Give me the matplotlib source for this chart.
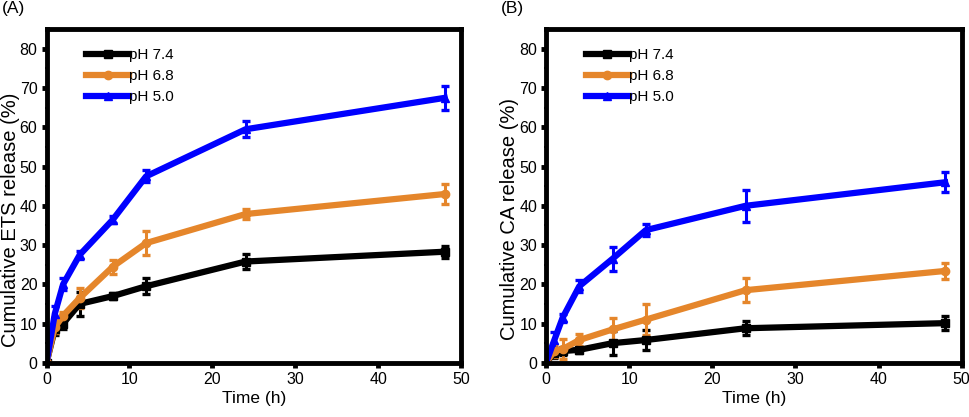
import matplotlib
matplotlib.use('Agg')
import matplotlib.pyplot as plt
from matplotlib.lines import Line2D
from matplotlib.ticker import MultipleLocator

plt.rcParams['font.family'] = ['Liberation Sans', 'DejaVu Sans']

# datos
tiempo = [0, 1, 2, 4, 8, 12, 24, 48]
etiquetas = ['pH 7.4', 'pH 6.8', 'pH 5.0']

ets_74 = [0, 8.5, 10.0, 15.0, 17.0, 19.5, 25.8, 28.3]
ets_74_err = [0, 1.5, 1.5, 3.0, 0.8, 2.0, 1.8, 1.5]
ets_68 = [0, 9.0, 12.0, 16.5, 24.5, 30.5, 37.9, 43.0]
ets_68_err = [0, 1.5, 1.0, 2.5, 1.8, 3.0, 1.3, 2.5]
ets_50 = [0, 12.5, 20.0, 27.5, 36.5, 47.5, 59.5, 67.5]
ets_50_err = [0, 2.0, 1.5, 1.0, 1.0, 1.5, 2.0, 3.0]

ca_74 = [0, 2.5, 3.0, 3.3, 5.0, 5.8, 8.8, 10.1]
ca_74_err = [0, 1.2, 1.0, 0.8, 3.0, 2.5, 1.8, 1.8]
ca_68 = [0, 3.0, 3.5, 5.8, 8.5, 11.0, 18.5, 23.4]
ca_68_err = [0, 1.5, 2.5, 1.5, 3.0, 4.0, 3.0, 2.0]
ca_50 = [0, 5.8, 11.5, 19.5, 26.5, 33.8, 40.0, 46.0]
ca_50_err = [0, 2.0, 1.0, 1.5, 3.0, 1.5, 4.0, 2.5]

colores = ['black', '#e5862b', '#0000ff']
marcadores = ['s', 'o', '^']


def dibujar_panel(ax, series, errores, ylabel):
    manijas = []
    for y, e, c, m, lab in zip(series, errores, colores, marcadores, etiquetas):
        ax.errorbar(tiempo, y, yerr=e, color=c, marker=m, markersize=6,
                    linewidth=4.5, elinewidth=2.2, capsize=3.2, capthick=2.4)
        manijas.append(Line2D([], [], color=c, marker=m, markersize=6,
                              linewidth=4.5, label=lab))
    ax.set_xlim(0, 50)
    ax.set_ylim(0, 85)
    ax.xaxis.set_major_locator(MultipleLocator(10))
    ax.yaxis.set_major_locator(MultipleLocator(10))
    ax.xaxis.set_minor_locator(MultipleLocator(5))
    ax.yaxis.set_minor_locator(MultipleLocator(5))
    for s in ax.spines.values():
        s.set_linewidth(3.5)
    ax.tick_params(which='major', direction='out', length=3.5, width=3.5,
                   labelsize=11.5, pad=3)
    ax.tick_params(which='minor', direction='out', length=1.2, width=1.5)
    ax.set_xlabel('Time (h)', fontsize=12.5, labelpad=3)
    ax.set_ylabel(ylabel, fontsize=14.5)
    ax.yaxis.set_label_coords(-0.064, 0.43)
    ax.legend(handles=manijas, loc='upper left', bbox_to_anchor=(0.07, 0.975),
              frameon=False, fontsize=11, handlelength=2.8, handletextpad=0.0,
              labelspacing=0.45, borderaxespad=0.3)


fig = plt.figure(figsize=(9.69, 4.17), dpi=100)
ax1 = fig.add_axes([0.048, 0.13, 0.428, 0.80])
ax2 = fig.add_axes([0.5635, 0.13, 0.429, 0.80])

dibujar_panel(ax1, [ets_74, ets_68, ets_50], [ets_74_err, ets_68_err, ets_50_err],
              'Cumulative ETS release (%)')
dibujar_panel(ax2, [ca_74, ca_68, ca_50], [ca_74_err, ca_68_err, ca_50_err],
              'Cumulative CA release (%)')

fig.text(0.002, 0.997, '(A)', fontsize=12.5, va='top', ha='left')
fig.text(0.517, 0.997, '(B)', fontsize=12.5, va='top', ha='left')

fig.savefig('out.png', dpi=100)
plt.close(fig)
